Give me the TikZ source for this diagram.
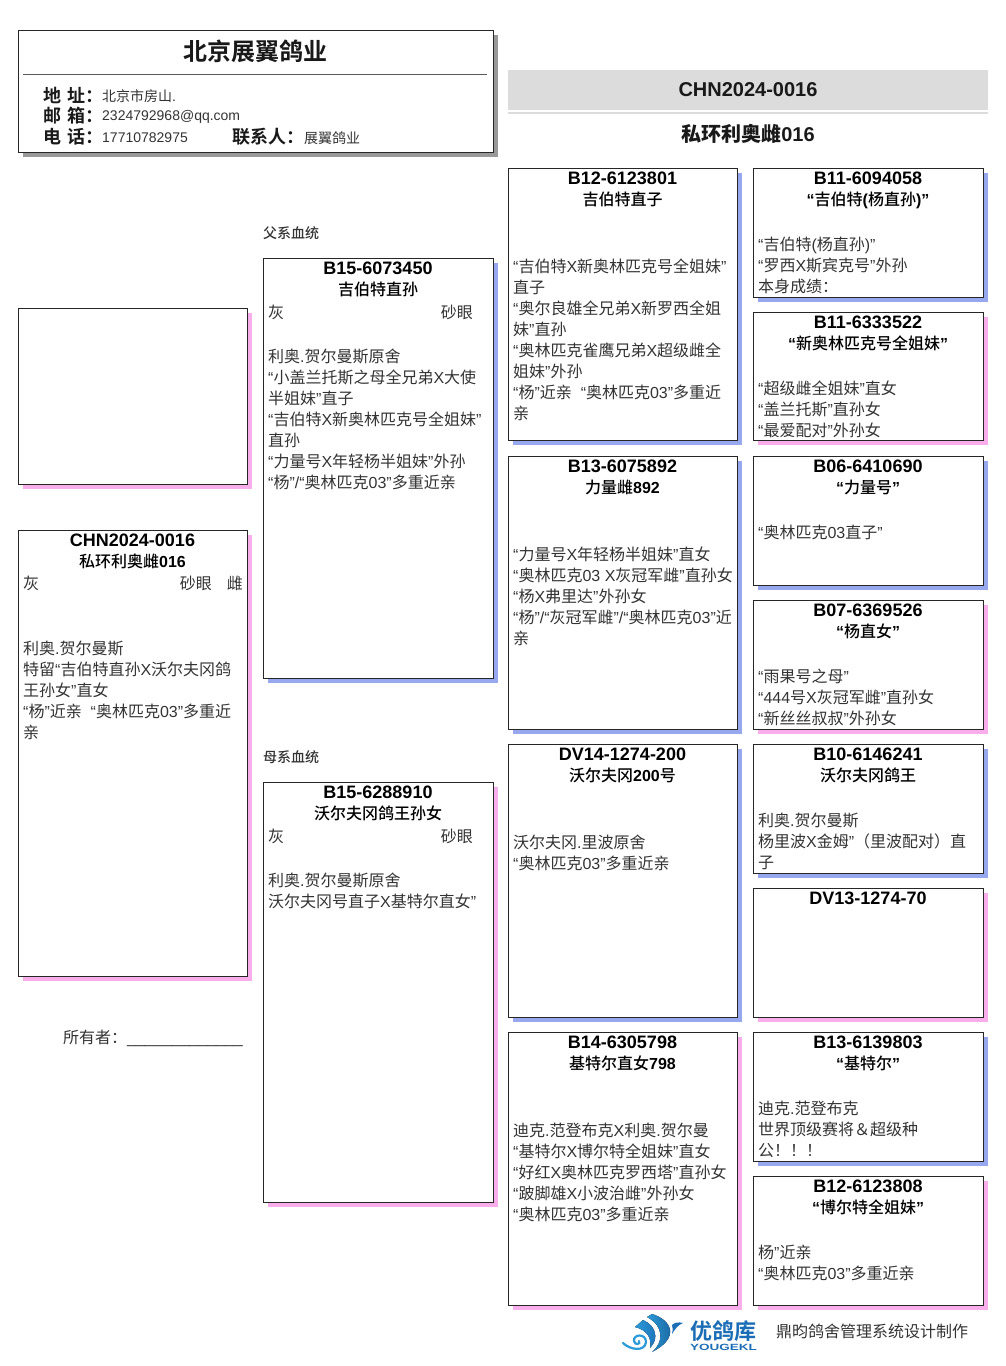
\documentclass[tikz,border=0pt]{standalone}
\usepackage{fontspec}
\setmainfont{Liberation Sans}
\newfontfamily\cjk{Noto Sans CJK SC}[BoldFont={Noto Sans CJK SC Medium}]
\newfontfamily\cjkheavy{Noto Sans CJK SC Bold}
\usetikzlibrary{positioning}
\usetikzlibrary{shadows}

% switch to the CJK family on Chinese characters
\let\usecjk\cjk
\XeTeXinterchartokenstate=1
\newXeTeXintercharclass\cjkclass
\count255="4E00
\loop\ifnum\count255<"9FFF \XeTeXcharclass\count255=\cjkclass \advance\count255 by 1 \repeat
\XeTeXcharclass"FF1A=\cjkclass
\XeTeXcharclass"FF08=\cjkclass
\XeTeXcharclass"FF09=\cjkclass
\XeTeXcharclass"FF01=\cjkclass
\XeTeXcharclass"FF06=\cjkclass
\XeTeXinterchartoks 0 \cjkclass={\usecjk}
\XeTeXinterchartoks 4095 \cjkclass={\usecjk}
\XeTeXinterchartoks \cjkclass 0={\rmfamily}
\XeTeXinterchartoks \cjkclass 4095={\rmfamily}

\newcommand{\ringid}[1]{{\fontsize{18}{21}\selectfont #1}}

\definecolor{pedblue}{HTML}{98A8EE}
\definecolor{pedpink}{HTML}{F8AEEA}
\definecolor{pedband}{HTML}{DCDCDC}
\definecolor{pedtext}{HTML}{333333}
\definecolor{logoblue}{HTML}{1B6DB5}
\definecolor{logosky}{HTML}{2A9BD8}

\tikzset{
  pedbox/.style={draw=black!85, fill=white, anchor=north west, inner sep=0pt, outer sep=0pt, line width=0.8pt},
  bluebox/.style={pedbox, drop shadow={shadow xshift=4.7pt, shadow yshift=-4.7pt, fill=pedblue, opacity=1}},
  pinkbox/.style={pedbox, drop shadow={shadow xshift=4.7pt, shadow yshift=-4.7pt, fill=pedpink, opacity=1}},
  headtext/.style={inner sep=0pt, yshift=-4pt, align=center, font=\fontsize{16}{21}\selectfont\bfseries, text=black},
  bodytext/.style={inner sep=0pt, yshift=-3pt, align=left, font=\fontsize{16}{21}\selectfont, text=pedtext},
  addrkey/.style={inner sep=0pt, anchor=west, font=\fontsize{18}{21}\selectfont\let\usecjk\cjkheavy, text=black!90},
  addrval/.style={inner sep=0pt, anchor=west, font=\fontsize{14}{21}\selectfont, text=pedtext},
  sidetext/.style={inner sep=0pt, anchor=west, font=\fontsize{14}{15}\selectfont\bfseries, text=pedtext},
  titletext/.style={inner sep=0pt, font=\fontsize{20}{24}\selectfont\bfseries\let\usecjk\cjkheavy, text=black!90}
}

\begin{document}
\begin{tikzpicture}[x=1pt, y=-1pt]
  \useasboundingbox (0,0) rectangle (1006,1366);

  % company card
  \node [pedbox, minimum width=475pt, minimum height=122pt,
    drop shadow={shadow xshift=4.7pt, shadow yshift=-4.7pt, fill=black!40, opacity=1}] (card) at (18,30) {};
  \node [titletext, font=\fontsize{24}{28}\selectfont\let\usecjk\cjkheavy] (company) at (255,51) {北京展翼鸽业};
  \coordinate (ruleleft) at (23,74);
  \coordinate (ruleright) at (487,74);
  \draw [black!65] (ruleleft) -- (ruleright);
  \node [addrkey] (addrkey) at (43,95) {地\,\,址：};
  \node [addrkey] (mailkey) at (43,116) {邮\,\,箱：};
  \node [addrkey] (telkey) at (43,137) {电\,\,话：};
  \node [addrkey] (contactkey) at (232,137) {联系人：};
  \node [addrval] (addrval) at (102,96) {北京市房山.};
  \node [addrval] (mailval) at (102,117) {2324792968@qq.com};
  \node [addrval] (telval) at (102,138) {17710782975};
  \node [addrval] (contactval) at (304,138) {展翼鸽业};

  % ring title
  \fill [pedband] (508,70) rectangle (988,110);
  \fill [pedband] (508,112) rectangle (988,114);
  \node [titletext] (ringno) at (748,90) {CHN2024-0016};
  \node [titletext] (ringname) at (748,134) {私环利奥雌016};

  % photo and pigeon itself
  \node [pinkbox, minimum width=229pt, minimum height=176pt] (photo) at (18,308) {};
  \node [pinkbox, minimum width=229pt, minimum height=446pt] (self) at (18,530) {};
  \node [headtext, below=0pt of self.north] (selfhead) {\ringid{CHN2024-0016}\\私环利奥雌016};
  \node [bodytext, below right=43pt and 5pt of self.north west] (selfcolor) {灰};
  \node [bodytext, below left=43pt and 35pt of self.north east] (selfeye) {砂眼};
  \node [bodytext, below left=43pt and 4pt of self.north east] (selfsex) {雌};
  \node [bodytext, below right=108pt and 5pt of self.north west] (selfbody)
    {利奥.贺尔曼斯\\特留“吉伯特直孙X沃尔夫冈鸽\\王孙女”直女\\“杨”近亲\ \ “奥林匹克03”多重近\\亲};
  \node [inner sep=0pt, anchor=west, font=\fontsize{16}{21}\selectfont, text=pedtext] (owner) at (63,1038)
    {所有者：\_\_\_\_\_\_\_\_\_\_\_\_\_};

  % parents
  \node [sidetext] (sirelabel) at (263,233) {父系血统};
  \node [sidetext] (damlabel) at (263,757) {母系血统};

  \node [bluebox, minimum width=230pt, minimum height=420pt] (sire) at (263,258) {};
  \node [headtext, below=0pt of sire.north] (sirehead) {\ringid{B15-6073450}\\吉伯特直孙};
  \node [bodytext, below right=44pt and 5pt of sire.north west] (sirecolor) {灰};
  \node [bodytext, below left=44pt and 20pt of sire.north east] (sireeye) {砂眼};
  \node [bodytext, below right=88pt and 5pt of sire.north west] (sirebody)
    {利奥.贺尔曼斯原舍\\“小盖兰托斯之母全兄弟X大使\\半姐妹”直子\\“吉伯特X新奥林匹克号全姐妹”\\直孙\\“力量号X年轻杨半姐妹”外孙\\“杨”/“奥林匹克03”多重近亲};

  \node [pinkbox, minimum width=230pt, minimum height=420pt] (dam) at (263,782) {};
  \node [headtext, below=0pt of dam.north] (damhead) {\ringid{B15-6288910}\\沃尔夫冈鸽王孙女};
  \node [bodytext, below right=44pt and 5pt of dam.north west] (damcolor) {灰};
  \node [bodytext, below left=44pt and 20pt of dam.north east] (dameye) {砂眼};
  \node [bodytext, below right=88pt and 5pt of dam.north west] (dambody)
    {利奥.贺尔曼斯原舍\\沃尔夫冈号直子X基特尔直女”};

  % grandparents
  \node [bluebox, minimum width=229pt, minimum height=272pt] (gsire) at (508,168) {};
  \node [headtext, below=0pt of gsire.north] (gsirehead) {\ringid{B12-6123801}\\吉伯特直子};
  \node [bodytext, below right=88pt and 5pt of gsire.north west] (gsirebody)
    {“吉伯特X新奥林匹克号全姐妹”\\直子\\“奥尔良雄全兄弟X新罗西全姐\\妹”直孙\\“奥林匹克雀鹰兄弟X超级雌全\\姐妹”外孙\\“杨”近亲\ \ “奥林匹克03”多重近\\亲};

  \node [bluebox, minimum width=229pt, minimum height=273pt] (gdam) at (508,456) {};
  \node [headtext, below=0pt of gdam.north] (gdamhead) {\ringid{B13-6075892}\\力量雌892};
  \node [bodytext, below right=88pt and 5pt of gdam.north west] (gdambody)
    {“力量号X年轻杨半姐妹”直女\\“奥林匹克03 X灰冠军雌”直孙女\\“杨X弗里达”外孙女\\“杨”/“灰冠军雌”/“奥林匹克03”近\\亲};

  \node [bluebox, minimum width=229pt, minimum height=273pt] (hsire) at (508,744) {};
  \node [headtext, below=0pt of hsire.north] (hsirehead) {\ringid{DV14-1274-200}\\沃尔夫冈200号};
  \node [bodytext, below right=88pt and 5pt of hsire.north west] (hsirebody)
    {沃尔夫冈.里波原舍\\“奥林匹克03”多重近亲};

  \node [pinkbox, minimum width=229pt, minimum height=273pt] (hdam) at (508,1032) {};
  \node [headtext, below=0pt of hdam.north] (hdamhead) {\ringid{B14-6305798}\\基特尔直女798};
  \node [bodytext, below right=88pt and 5pt of hdam.north west] (hdambody)
    {迪克.范登布克X利奥.贺尔曼\\“基特尔X博尔特全姐妹”直女\\“好红X奥林匹克罗西塔”直孙女\\“跛脚雄X小波治雌”外孙女\\“奥林匹克03”多重近亲};

  % great-grandparents
  \node [bluebox, minimum width=230pt, minimum height=129pt] (ggone) at (753,168) {};
  \node [headtext, below=0pt of ggone.north] (ggonehead) {\ringid{B11-6094058}\\“吉伯特(杨直孙)”};
  \node [bodytext, below right=66pt and 5pt of ggone.north west] (ggonebody)
    {“吉伯特(杨直孙)”\\“罗西X斯宾克号”外孙\\本身成绩：};

  \node [pinkbox, minimum width=230pt, minimum height=128pt] (ggtwo) at (753,312) {};
  \node [headtext, below=0pt of ggtwo.north] (ggtwohead) {\ringid{B11-6333522}\\“新奥林匹克号全姐妹”};
  \node [bodytext, below right=66pt and 5pt of ggtwo.north west] (ggtwobody)
    {“超级雌全姐妹”直女\\“盖兰托斯”直孙女\\“最爱配对”外孙女};

  \node [bluebox, minimum width=230pt, minimum height=129pt] (ggthree) at (753,456) {};
  \node [headtext, below=0pt of ggthree.north] (ggthreehead) {\ringid{B06-6410690}\\“力量号”};
  \node [bodytext, below right=66pt and 5pt of ggthree.north west] (ggthreebody)
    {“奥林匹克03直子”};

  \node [pinkbox, minimum width=230pt, minimum height=129pt] (ggfour) at (753,600) {};
  \node [headtext, below=0pt of ggfour.north] (ggfourhead) {\ringid{B07-6369526}\\“杨直女”};
  \node [bodytext, below right=66pt and 5pt of ggfour.north west] (ggfourbody)
    {“雨果号之母”\\“444号X灰冠军雌”直孙女\\“新丝丝叔叔”外孙女};

  \node [bluebox, minimum width=230pt, minimum height=129pt] (ggfive) at (753,744) {};
  \node [headtext, below=0pt of ggfive.north] (ggfivehead) {\ringid{B10-6146241}\\沃尔夫冈鸽王};
  \node [bodytext, below right=66pt and 5pt of ggfive.north west] (ggfivebody)
    {利奥.贺尔曼斯\\杨里波X金姆”（里波配对）直\\子};

  \node [pinkbox, minimum width=230pt, minimum height=129pt] (ggsix) at (753,888) {};
  \node [headtext, below=0pt of ggsix.north] (ggsixhead) {\ringid{DV13-1274-70}};

  \node [bluebox, minimum width=230pt, minimum height=129pt] (ggseven) at (753,1032) {};
  \node [headtext, below=0pt of ggseven.north] (ggsevenhead) {\ringid{B13-6139803}\\“基特尔”};
  \node [bodytext, below right=66pt and 5pt of ggseven.north west] (ggsevenbody)
    {迪克.范登布克\\世界顶级赛将＆超级种\\公！！！};

  \node [pinkbox, minimum width=230pt, minimum height=129pt] (ggeight) at (753,1176) {};
  \node [headtext, below=0pt of ggeight.north] (ggeighthead) {\ringid{B12-6123808}\\“博尔特全姐妹”};
  \node [bodytext, below right=66pt and 5pt of ggeight.north west] (ggeightbody)
    {杨”近亲\\“奥林匹克03”多重近亲};

  % logo
  \fill [left color=logosky, right color=logoblue]
    (635,1327) -- (643,1320) .. controls (655,1325) and (660,1338) .. (650,1348)
    .. controls (652,1338) and (647,1330) .. (635,1327) -- cycle;
  \fill [left color=logosky, right color=logoblue!80!black]
    (647,1317) -- (652,1314) .. controls (672,1320) and (680,1338) .. (652,1352)
    .. controls (664,1342) and (664,1326) .. (647,1317) -- cycle;
  \fill [logoblue] (672,1325) .. controls (675,1322) and (679,1322) .. (683,1323)
    .. controls (678,1325) and (675,1329) .. (672,1334) .. controls (673,1331) and (673,1328) .. (672,1325) -- cycle;
  \draw [logosky, line width=2.2pt, line cap=round]
    (623,1343) .. controls (630,1350) and (645,1352) .. (646,1342)
    .. controls (646,1333) and (633,1334) .. (634,1341) .. controls (635,1346) and (641,1344) .. (639,1341);

  \node [inner sep=0pt, anchor=west, font=\fontsize{22}{24}\selectfont\let\usecjk\cjkheavy, text=logoblue] (logoname) at (690,1331) {优鸽库};
  \node [inner sep=0pt, font=\fontsize{9}{9}\selectfont\bfseries, text=logoblue, xscale=1.5] (logolatin) at (723.5,1347) {YOUGEKL};
  \node [inner sep=0pt, anchor=west, font=\fontsize{16}{21}\selectfont, text=pedtext] (maker) at (776,1331) {鼎昀鸽舍管理系统设计制作};
\end{tikzpicture}
\end{document}
